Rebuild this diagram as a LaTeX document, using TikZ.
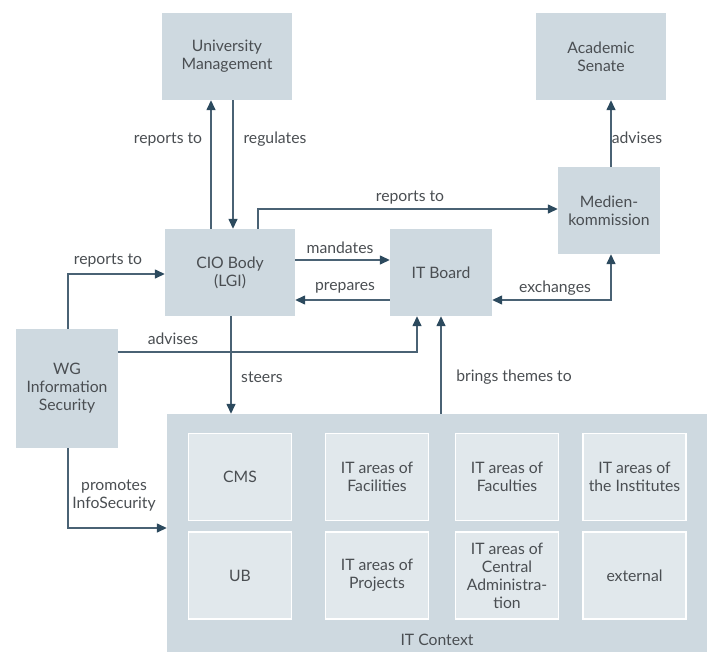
\documentclass[tikz,border=0pt]{standalone}
\usepackage{fontspec}
\setmainfont{Lato}
\usetikzlibrary{arrows.meta,calc}
\definecolor{boxfill}{HTML}{CED9E0}
\definecolor{innerfill}{HTML}{E1E8EC}
\definecolor{linec}{HTML}{4A6274}
\definecolor{headc}{HTML}{2C4A5E}
\definecolor{txt}{HTML}{4A4E52}
\begin{document}
\begin{tikzpicture}[x=1bp,y=-1bp,
  font=\fontsize{15.8}{18}\selectfont, text=txt,
  box/.style={fill=boxfill, draw=none, align=center, inner sep=0pt},
  wide/.style={box, minimum width=130bp, minimum height=87bp},
  narrow/.style={box, minimum width=102bp, minimum height=87bp},
  inner/.style={fill=innerfill, draw=white, line width=1.8bp, align=center, inner sep=0pt,
    minimum width=103bp, minimum height=87bp},
  arr/.style={draw=linec, line width=1.4bp, -{Triangle[length=10bp,width=9bp,fill=headc,color=headc]}},
  arrb/.style={draw=linec, line width=1.4bp, {Triangle[length=10bp,width=9bp,fill=headc,color=headc]}-{Triangle[length=10bp,width=9bp,fill=headc,color=headc]}},
  lbl/.style={inner sep=0pt, align=center}]
\useasboundingbox (0,0) rectangle (707,652);
% main boxes
\node[wide] (UM) at (227,56.5) {University\\Management};
\node[wide] (AS) at (601,56.5) {Academic\\Senate};
\node[narrow] (MK) at (609,210.5) {Medien-\\kommission};
\node[narrow] (ITB) at (441,272.5) {IT Board};
\node[wide] (CIO) at (230,272.5) {CIO Body\\(LGI)};
\node[box, minimum width=102bp, minimum height=119bp] (WG) at (67,388.5) {WG\\Information\\Security};
\node[box, minimum width=540bp, minimum height=238bp] (Ctx) at (437,533) {};
\node[lbl] (CtxL) at (437,640) {IT Context};
% inner boxes
\node[inner] (CMS) at (240,477) {CMS};
\node[inner] (FAC) at (377,477) {IT areas of\\Facilities};
\node[inner] (FACU) at (507,477) {IT areas of\\Faculties};
\node[inner] (INST) at (634.5,477) {IT areas of\\the Institutes};
\node[inner] (UB) at (240,575.5) {UB};
\node[inner] (PRJ) at (377,575.5) {IT areas of\\Projects};
\node[inner] (ADM) at (507,575.5) {IT areas of\\Central\\Administra-\\tion};
\node[inner] (EXT) at (634.5,575.5) {external};
% connectors
\draw[arr] ($(CIO.north)+(-19,0)$) -- ($(UM.south)+(-16,0)$);
\node[lbl] (l1) at (168,140) {reports to};
\draw[arr] ($(UM.south)+(6,0)$) -- ($(CIO.north)+(3,0)$);
\node[lbl] (l2) at (275,139) {regulates};
\draw[arr] ($(CIO.north)+(28,0)$) |- ($(MK.west)+(0,-1.5)$);
\node[lbl] (l3) at (410,198) {reports to};
\draw[arr] ($(CIO.east)+(0,-12.5)$) -- ($(ITB.west)+(0,-12.5)$);
\node[lbl] (l4) at (340,248) {mandates};
\draw[arr] ($(ITB.west)+(0,27.5)$) -- ($(CIO.east)+(0,27.5)$);
\node[lbl] (l5) at (345,288) {prepares};
\coordinate (mkS) at ($(MK.south)+(2,0)$);
\draw[arrb] ($(ITB.east)+(0,27.5)$) -| (mkS);
\node[lbl] (l6) at (555,288) {exchanges};
\coordinate (mkN) at ($(MK.north)+(2,0)$);
\draw[arr] (mkN) -- (mkN |- AS.south);
\node[lbl] (l7) at (637,138) {advises};
\draw[arr] ($(WG.north)+(1,0)$) |- ($(CIO.west)+(0,1.5)$);
\node[lbl] (l8) at (108,261) {reports to};
\draw[arr] ($(WG.east)+(0,-36.5)$) -| ($(ITB.south)+(-24,0)$);
\node[lbl] (l9) at (173,339) {advises};
\coordinate (cioS) at ($(CIO.south)+(1,0)$);
\draw[arr] (cioS) -- (cioS |- Ctx.north);
\node[lbl] (l10) at (262,377) {steers};
\draw[arr] (ITB.south |- Ctx.north) -- (ITB.south);
\node[lbl] (l11) at (514,377) {brings themes to};
\draw[arr] ($(WG.south)+(1,0)$) |- ($(Ctx.west)+(0,-5)$);
\node[lbl] (l12) at (114,496) {promotes\\InfoSecurity};
\end{tikzpicture}
\end{document}
